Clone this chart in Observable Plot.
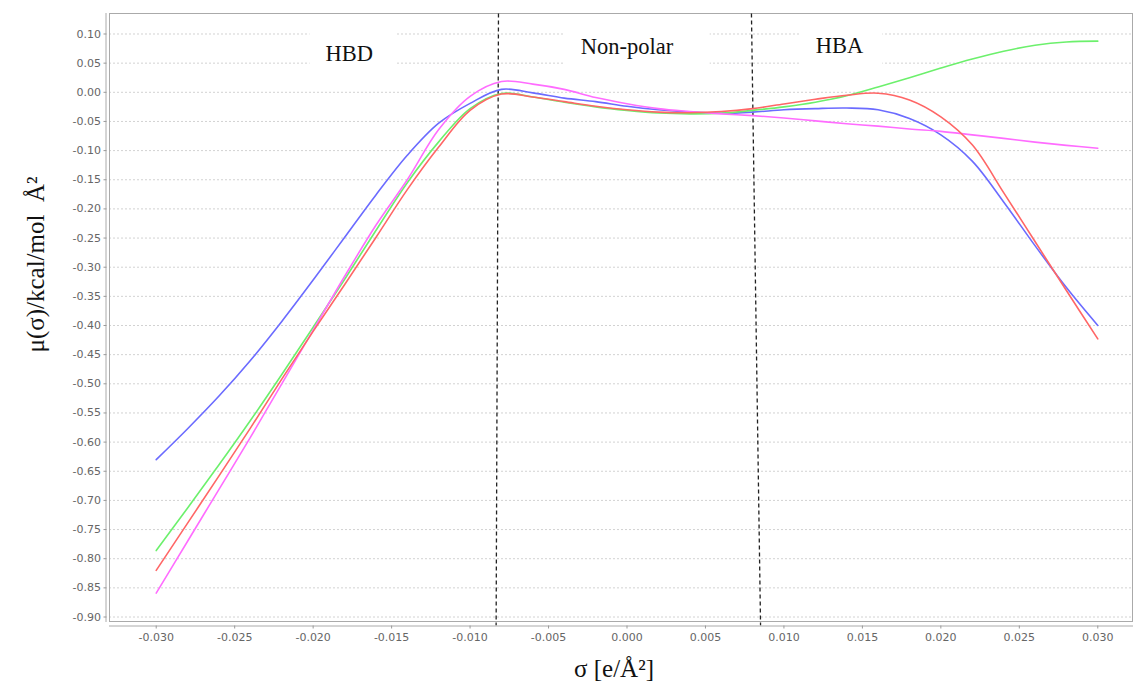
<!DOCTYPE html>
<html><head><meta charset="utf-8">
<script src="https://cdn.jsdelivr.net/npm/d3@7"></script>
<script src="https://cdn.jsdelivr.net/npm/@observablehq/plot@0.6"></script>
<style>body{margin:0;background:#fff}</style>
</head><body><div id="chart"></div>
<script>
// σ grid (e/Å²)
const sigma = [-0.030,-0.028,-0.026,-0.024,-0.022,-0.020,-0.018,-0.016,-0.014,-0.012,-0.010,-0.008,-0.006,-0.004,-0.002,0.000,0.002,0.004,0.006,0.008,0.010,0.012,0.014,0.016,0.018,0.020,0.022,0.024,0.026,0.028,0.030];
// μ(σ) series
const muBlue = [-0.630,-0.577,-0.521,-0.460,-0.393,-0.322,-0.249,-0.176,-0.108,-0.053,-0.019,0.005,-0.001,-0.010,-0.016,-0.024,-0.030,-0.034,-0.036,-0.034,-0.030,-0.028,-0.027,-0.030,-0.045,-0.073,-0.118,-0.188,-0.263,-0.335,-0.400];
const muGreen = [-0.786,-0.713,-0.639,-0.563,-0.484,-0.403,-0.321,-0.237,-0.155,-0.085,-0.028,-0.002,-0.008,-0.017,-0.025,-0.031,-0.0355,-0.037,-0.036,-0.031,-0.025,-0.017,-0.006,0.009,0.025,0.0415,0.057,0.0705,0.0807,0.0863,0.0877];
const muMagenta = [-0.859,-0.770,-0.681,-0.592,-0.500,-0.408,-0.316,-0.228,-0.150,-0.064,-0.007,0.0185,0.014,0.005,-0.009,-0.0195,-0.028,-0.033,-0.037,-0.040,-0.044,-0.049,-0.054,-0.058,-0.063,-0.067,-0.073,-0.079,-0.0855,-0.091,-0.096];
const muRed = [-0.820,-0.739,-0.658,-0.576,-0.492,-0.410,-0.330,-0.249,-0.167,-0.094,-0.031,-0.003,-0.008,-0.016,-0.024,-0.030,-0.034,-0.035,-0.033,-0.028,-0.020,-0.012,-0.005,-0.0015,-0.013,-0.042,-0.090,-0.172,-0.256,-0.340,-0.423];

const seriesNames = ["Series A", "Series B", "Series C", "Series D"];
const seriesColors = ["#6b6bff", "#6cf06c", "#ff6cff", "#ff6666"];
const seriesValues = [muBlue, muGreen, muMagenta, muRed];

// axis ticks
const xTicks = [-0.030,-0.025,-0.020,-0.015,-0.010,-0.005,0.000,0.005,0.010,0.015,0.020,0.025,0.030];
const yTicks = [0.10,0.05,0.00,-0.05,-0.10,-0.15,-0.20,-0.25,-0.30,-0.35,-0.40,-0.45,-0.50,-0.55,-0.60,-0.65,-0.70,-0.75,-0.80,-0.85,-0.90];

// region annotations
const regionLabels = ["HBD", "Non-polar", "HBA"];
const regionX = [-0.0177, 0.0000, 0.01354];
const regionY = [0.066, 0.078, 0.079];
const regionBoxX1 = [-0.0202, -0.0040, 0.0111];
const regionBoxX2 = [-0.0147, 0.0053, 0.0163];
const regionBoxY1 = [0.125, 0.125, 0.125];
const regionBoxY2 = [0.030, 0.030, 0.030];

// dashed dividers (slightly slanted as in the source)
const dividerXTop = [-0.00819, 0.00793];
const dividerXBottom = [-0.00834, 0.00851];
const dividerYTop = [0.135, 0.135];
const dividerYBottom = [-0.914, -0.914];

const xTitle = "σ [e/Å²]";
const yTitle = "μ(σ)/kcal/mol  Å²";

const lineData = [];
seriesNames.forEach((s, k) => sigma.forEach((x, i) => lineData.push({series: s, sigma: x, mu: seriesValues[k][i]})));
const boxes = regionLabels.map((t, i) => ({x1: regionBoxX1[i], x2: regionBoxX2[i], y1: regionBoxY1[i], y2: regionBoxY2[i]}));
const labels = regionLabels.map((t, i) => ({text: t, x: regionX[i], y: regionY[i]}));
const dividers = dividerXTop.map((d, i) => ({x1: d, x2: dividerXBottom[i], y1: dividerYTop[i], y2: dividerYBottom[i]}));

const chart = Plot.plot({
  width: 1134, height: 690,
  marginTop: 13, marginLeft: 109, marginRight: 2, marginBottom: 69,
  style: {fontFamily: "DejaVu Sans", fontSize: "11px", background: "white", color: "#666", overflow: "visible"},
  x: {domain: [-0.032977, 0.032212]},
  y: {domain: [-0.9077, 0.13516]},
  color: {type: "ordinal", domain: seriesNames, range: seriesColors},
  marks: [
    Plot.gridY(yTicks, {stroke: "#d2d2d2", strokeOpacity: 1, strokeDasharray: "2,2"}),
    Plot.rect(boxes, {x1: "x1", x2: "x2", y1: "y1", y2: "y2", fill: "white"}),
    Plot.frame({stroke: "#aaaaaa"}),
    Plot.frame({anchor: "left", dx: -3.5, stroke: "#aaaaaa"}),
    Plot.frame({anchor: "bottom", dy: 4.5, stroke: "#aaaaaa"}),
    Plot.axisY(yTicks, {tickFormat: d => d.toFixed(2), tickSize: 3, dx: -2.5, tickPadding: 3, fill: "#666", stroke: "#999", label: null}),
    Plot.axisX(xTicks, {tickFormat: d => d.toFixed(3), tickSize: 3, dy: 4.5, tickPadding: 4, fill: "#666", stroke: "#999", label: null}),
    Plot.link(dividers, {x1: "x1", y1: "y1", x2: "x2", y2: "y2", stroke: "#222", strokeWidth: 1.3, strokeDasharray: "4,3"}),
    Plot.line(lineData, {x: "sigma", y: "mu", z: "series", stroke: "series", strokeWidth: 1.6, curve: "catmull-rom"}),
    Plot.text(labels, {x: "x", y: "y", text: "text", fontFamily: "Liberation Serif", fontSize: 22.5, fill: "#111"}),
    Plot.text([yTitle], {frameAnchor: "left", dx: -74, dy: 35, rotate: -90, fontFamily: "Liberation Serif", fontSize: 25, fill: "#111"}),
    Plot.text([xTitle], {frameAnchor: "bottom", dx: -7, dy: 55, fontFamily: "Liberation Serif", fontSize: 25, fill: "#111"})
  ]
});
document.getElementById("chart").append(chart);
</script>
</body></html>
